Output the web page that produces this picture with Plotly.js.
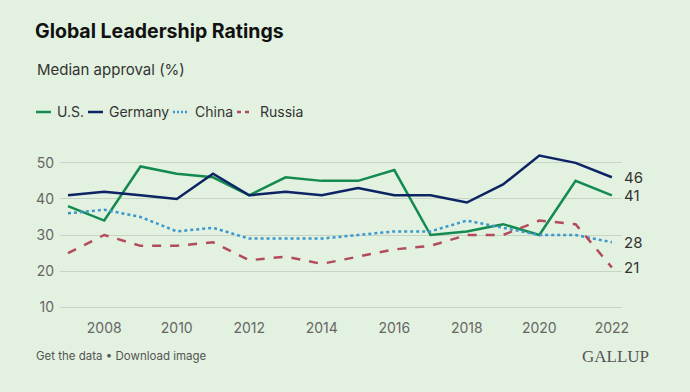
<!DOCTYPE html>
<html>
<head>
<meta charset="utf-8">
<script src="https://cdn.plot.ly/plotly-3.0.1.min.js"></script>
<style>
html,body{margin:0;padding:0;background:#e3f1e0;}
#chart{width:690px;height:392px;}
</style>
</head>
<body>
<div id="chart"></div>
<script>
var years = [2007,2008,2009,2010,2011,2012,2013,2014,2015,2016,2017,2018,2019,2020,2021,2022];
var us      = [38,34,49,47,46,41,46,45,45,48,30,31,33,30,45,41];
var germany = [41,42,41,40,47,41,42,41,43,41,41,39,44,52,50,46];
var china   = [36,37,35,31,32,29,29,29,30,31,31,34,32,30,30,28];
var russia  = [25,30,27,27,28,23,24,22,24,26,27,30,30,34,33,21];
var seriesNames = ["U.S.","Germany","China","Russia"];
var xTicks = [2008,2010,2012,2014,2016,2018,2020,2022];
var yTicks = [10,20,30,40,50];

var colors = ["#138a4f","#0c2464","#3b98cc","#b24b5c"];
var dashes = ["solid","solid","dot","dash"];
var vals = [us, germany, china, russia];

var traces = vals.map(function(v,i){
  return {x: years, y: v, name: seriesNames[i], type: "scatter", mode: "lines",
    line: {color: colors[i], width: 2.5, dash: dashes[i]}, hoverinfo: "x+y+name"};
});

var font = "Inter, 'Noto Sans', 'DejaVu Sans', sans-serif";
var L = 60, W = 562, B = 318, H = 166;
function px(x){ return (x - L) / W; }
function py(y){ return (B - y) / H; }

var annotations = [];
vals.forEach(function(v,i){
  annotations.push({xref:"x", yref:"y", x: years[years.length-1], y: v[v.length-1],
    text: String(v[v.length-1]), showarrow:false, xanchor:"left", yanchor:"middle",
    xshift: 10, font:{family:font, size:15, color:"#333"}});
});

// custom legend
var legSw = [36, 88, 173, 237];
var legTx = [55, 107, 193, 258];
var shapes = [];
seriesNames.forEach(function(n,i){
  shapes.push({type:"line", xref:"paper", yref:"paper", x0: px(legSw[i]), x1: px(legSw[i]+15),
    y0: py(112), y1: py(112), line:{color: colors[i], width: 2.5, dash: dashes[i] === "dash" ? "4px,4px" : (dashes[i] === "dot" ? "2px,2px" : "solid")}});
  annotations.push({xref:"paper", yref:"paper", x: px(legTx[i]), y: py(112), xanchor:"left", yanchor:"middle",
    text: n, showarrow:false, font:{family:font, size:14, color:"#333"}});
});

var layout = {
  width: 690, height: 392,
  paper_bgcolor: "#e3f1e0", plot_bgcolor: "#e3f1e0",
  margin: {l:60, r:68, t:152, b:74},
  font: {family: font, color: "#333"},
  title: {text: "<b>Global Leadership Ratings</b>", x: 35/690, xanchor: "left", xref: "container",
    y: 1 - 31/392, yanchor: "middle", yref: "container",
    font: {family: font, size: 19.5, color: "#111"}},
  showlegend: false,
  shapes: shapes,
  xaxis: {range: [2006.78, 2022.28], tickvals: xTicks, ticktext: xTicks.map(String),
    showgrid: false, zeroline: false, showline: false, ticks: "",
    tickfont: {family: font, size: 14, color: "#666"}, fixedrange: true},
  yaxis: {range: [7, 53], tickvals: yTicks, ticktext: yTicks.map(String),
    showgrid: true, gridcolor: "#c5d4c3", gridwidth: 1, zeroline: false, showline: false,
    ticks: "", ticklabelstandoff: 5,
    tickfont: {family: font, size: 14, color: "#666"}, fixedrange: true},
  annotations: annotations.concat([
    {xref:"paper", yref:"paper", x: px(35), y: py(69), xanchor:"left", yanchor:"middle",
     text:"Median approval (%)", showarrow:false, font:{family:font, size:15, color:"#333"}},
    {xref:"paper", yref:"paper", x: px(34), y: py(356), xanchor:"left", yanchor:"middle",
     text:"Get the data • Download image", showarrow:false, font:{family:font, size:11.5, color:"#555"}},
    {xref:"paper", yref:"paper", x: px(651), y: py(356), xanchor:"right", yanchor:"middle",
     text:"GALLUP", showarrow:false, font:{family:"'Liberation Serif', 'DejaVu Serif', serif", size:17, color:"#555"}}
  ])
};

Plotly.newPlot("chart", traces, layout, {displayModeBar: false, staticPlot: true});
</script>
</body>
</html>
